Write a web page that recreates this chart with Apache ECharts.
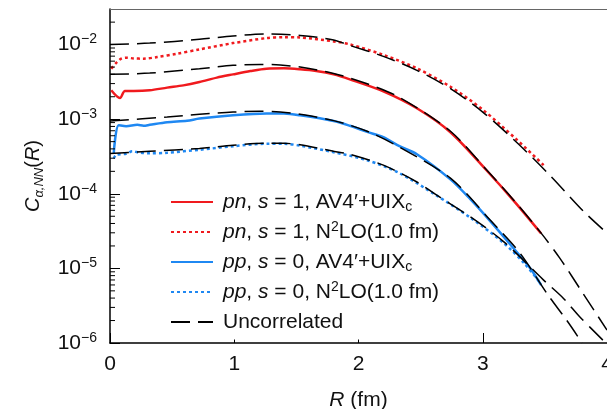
<!DOCTYPE html>
<html>
<head>
<meta charset="utf-8">
<script src="https://cdn.jsdelivr.net/npm/echarts@6/dist/echarts.min.js"></script>
<style>
    html, body { margin: 0; padding: 0; background: #fff; }
    #chart { width: 607px; height: 409px; }
</style>
</head>
<body>
<div id="chart"></div>
<script>
// C_alpha,NN(R) vs R
const rPnAv = [0.01, 0.08, 0.12, 0.19, 0.32, 0.46, 0.59, 0.72, 0.86, 0.99, 1.13, 1.26, 1.40, 1.53, 1.66, 1.80, 1.93, 2.20, 2.47, 2.74, 3.03, 3.25, 3.47];
const cPnAv = [2.44e-3, 1.92e-3, 2.39e-3, 2.39e-3, 2.44e-3, 2.65e-3, 2.84e-3, 3.15e-3, 3.61e-3, 3.99e-3, 4.42e-3, 4.75e-3, 4.80e-3, 4.66e-3, 4.42e-3, 3.99e-3, 3.42e-3, 2.36e-3, 1.40e-3, 6.68e-4, 2.07e-4, 8.05e-5, 2.94e-5];

const rPnN2lo = [0.01, 0.05, 0.09, 0.13, 0.19, 0.27, 0.38, 0.54, 0.72, 0.99, 1.26, 1.40, 1.53, 1.80, 1.93, 2.20, 2.47, 2.74, 3.00, 3.27, 3.49];
const cPnN2lo = [4.75e-3, 5.69e-3, 6.47e-3, 6.68e-3, 6.53e-3, 6.47e-3, 6.81e-3, 7.55e-3, 8.63e-3, 1.047e-2, 1.222e-2, 1.259e-2, 1.247e-2, 1.104e-2, 1.007e-2, 7.28e-3, 4.80e-3, 2.72e-3, 1.34e-3, 5.38e-4, 2.42e-4];

const rPpAv = [0.03, 0.07, 0.13, 0.22, 0.27, 0.32, 0.46, 0.62, 0.72, 0.99, 1.26, 1.40, 1.53, 1.80, 1.93, 2.07, 2.20, 2.33, 2.47, 2.74, 2.90, 3.06, 3.22, 3.38, 3.47];
const cPpAv = [3.46e-4, 8.28e-4, 8.04e-4, 8.41e-4, 8.17e-4, 8.41e-4, 9.10e-4, 9.53e-4, 1.019e-3, 1.127e-3, 1.189e-3, 1.189e-3, 1.127e-3, 9.46e-4, 8.17e-4, 6.75e-4, 5.73e-4, 4.34e-4, 3.39e-4, 1.56e-4, 8.47e-5, 4.31e-5, 2.11e-5, 1.01e-5, 5.97e-6];

const rPpN2lo = [0.03, 0.05, 0.13, 0.18, 0.24, 0.32, 0.46, 0.72, 0.99, 1.26, 1.40, 1.53, 1.80, 2.07, 2.33, 2.63, 2.90, 3.17, 3.34, 3.47];
const cPpN2lo = [2.97e-4, 3.33e-4, 3.44e-4, 3.72e-4, 3.55e-4, 3.49e-4, 3.55e-4, 3.89e-4, 4.34e-4, 4.69e-4, 4.69e-4, 4.41e-4, 3.61e-4, 2.82e-4, 1.89e-4, 9.44e-5, 4.79e-5, 2.18e-5, 1.14e-5, 6.17e-6];

// uncorrelated curves (black dashed)
const rUnc1 = [0, 0.32, 0.72, 0.99, 1.26, 1.53, 1.80, 1.93, 2.20, 2.47, 2.74, 3.00, 3.27, 3.54, 3.81, 4.0];
const cUnc1 = [1.00e-2, 1.047e-2, 1.175e-2, 1.306e-2, 1.390e-2, 1.327e-2, 1.156e-2, 9.75e-3, 6.95e-3, 4.52e-3, 2.57e-3, 1.247e-3, 4.95e-4, 1.774e-4, 5.85e-5, 2.97e-5];

const rUnc2 = [0, 0.32, 0.72, 0.99, 1.21, 1.37, 1.53, 1.80, 2.07, 2.33, 2.74, 3.03, 3.25, 3.47, 3.62, 3.81, 4.0];
const cUnc2 = [3.99e-3, 4.15e-3, 4.75e-3, 5.27e-3, 5.43e-3, 5.32e-3, 5.00e-3, 4.11e-3, 2.98e-3, 1.96e-3, 6.89e-4, 2.10e-4, 8.20e-5, 2.97e-5, 1.374e-5, 4.53e-6, 1.49e-6];

const rUnc3 = [0, 0.46, 0.72, 0.99, 1.21, 1.37, 1.53, 1.80, 2.07, 2.33, 2.74, 3.06, 3.30, 3.52, 3.68, 3.80];
const cUnc3 = [9.46e-4, 1.069e-3, 1.164e-3, 1.247e-3, 1.276e-3, 1.247e-3, 1.164e-3, 9.57e-4, 6.89e-4, 4.21e-4, 1.62e-4, 4.44e-5, 1.60e-5, 4.53e-6, 1.97e-6, 1.0e-6];

const rUnc4 = [0, 0.32, 0.72, 0.99, 1.26, 1.40, 1.53, 1.80, 1.93, 2.20, 2.47, 2.63, 2.90, 3.17, 3.49, 3.65, 3.78, 3.98];
const cUnc4 = [3.46e-4, 3.72e-4, 4.04e-4, 4.48e-4, 4.75e-4, 4.75e-4, 4.54e-4, 3.72e-4, 3.39e-4, 2.42e-4, 1.44e-4, 9.57e-5, 4.91e-5, 2.27e-5, 6.97e-6, 3.96e-6, 2.25e-6, 1.04e-6];

// log axis minor ticks: 2..9 x 10^n
const minorMult = [2, 3, 4, 5, 6, 7, 8, 9];
const minorDecades = [-6, -5, -4, -3];
const minorExtra = [2e-2];

const legendNames = ['pnAv', 'pnN2lo', 'ppAv', 'ppN2lo', 'Uncorrelated'];
const legendLabels = {
    pnAv: '{i|pn}, {i|s} = 1, AV4′+UIX{sub|c}',
    pnN2lo: '{i|pn}, {i|s} = 1, N{sup|2}LO(1.0 fm)',
    ppAv: '{i|pp}, {i|s} = 0, AV4′+UIX{sub|c}',
    ppN2lo: '{i|pp}, {i|s} = 0, N{sup|2}LO(1.0 fm)',
    Uncorrelated: 'Uncorrelated'
};

const FONT = "'Liberation Sans', Arial, sans-serif";
const RED = '#f01a1e';
const BLUE = '#1f88f2';

const pairs = (xs, ys) => xs.map((x, i) => [x, ys[i]]);
const minorTicks = [];
minorDecades.forEach(d => minorMult.forEach(m => minorTicks.push(m * Math.pow(10, d))));
minorExtra.forEach(v => minorTicks.push(v));

const echart = echarts.init(document.getElementById('chart'));

const lineSeries = (name, data, color, type, width, z) => ({
    type: 'line',
    name: name,
    data: data,
    symbol: 'none',
    smooth: 0.3,
    z: z,
    itemStyle: { color: color },
    lineStyle: { color: color, width: width, type: type }
});

const dash = [19, 8];
const dot = [3, 3];

const option = {
    animation: false,
    grid: { left: 110, right: 0, top: 9, bottom: 66, containLabel: false, outerBoundsMode: 'none' },
    // the legend box hides the lower part of the x ticks at 1 and 2
    graphic: [{
        type: 'rect',
        z: 3,
        silent: true,
        shape: { x: 165, y: 332, width: 285, height: 7.5 },
        style: { fill: '#fff' }
    }],
    legend: {
        data: legendNames,
        orient: 'vertical',
        left: 165,
        top: 185,
        itemWidth: 42,
        itemHeight: 14,
        itemGap: 6,
        itemStyle: { opacity: 0 },
        formatter: name => legendLabels[name],
        textStyle: {
            fontFamily: FONT,
            fontSize: 21,
            lineHeight: 24,
            color: '#111',
            padding: [0, 0, 0, 5],
            rich: {
                i: { fontFamily: FONT, fontSize: 21, fontStyle: 'italic', color: '#111', lineHeight: 24 },
                sub: { fontFamily: FONT, fontSize: 14, color: '#111', verticalAlign: 'bottom', lineHeight: 14 },
                sup: { fontFamily: FONT, fontSize: 14, color: '#111', verticalAlign: 'top', lineHeight: 14 }
            }
        }
    },
    xAxis: [{
        type: 'value',
        min: 0,
        max: 4,
        interval: 1,
        axisLine: { onZero: false, lineStyle: { color: '#000', width: 1.5 } },
        axisTick: { inside: true, length: 10, lineStyle: { color: '#000', width: 1 } },
        axisLabel: { margin: 11, fontFamily: FONT, fontSize: 21, color: '#111' },
        splitLine: { show: false },
        name: '{ri|R} (fm)',
        nameLocation: 'middle',
        nameGap: 47,
        nameTextStyle: {
            fontFamily: FONT,
            fontSize: 21,
            color: '#111',
            rich: {
                ri: { fontFamily: FONT, fontSize: 21, fontStyle: 'italic', color: '#111' }
            }
        }
    }, {
        type: 'value',
        position: 'top',
        min: 0,
        max: 4,
        axisLine: { show: true, onZero: false, lineStyle: { color: '#666', width: 1 } },
        axisTick: { show: false },
        axisLabel: { show: false },
        splitLine: { show: false }
    }],
    yAxis: {
        type: 'log',
        logBase: 10,
        min: 1e-6,
        max: 0.03,
        axisLine: { show: true, onZero: false, lineStyle: { color: '#000', width: 1.5 } },
        axisTick: { inside: true, length: 10, lineStyle: { color: '#000', width: 1 } },
        splitLine: { show: false },
        axisLabel: {
            margin: 13,
            showMaxLabel: false,
            formatter: v => '{b|10}{sup|−' + (-Math.round(Math.log10(v))) + '}',
            rich: {
                b: { fontFamily: FONT, fontSize: 21, color: '#111', lineHeight: 24 },
                sup: { fontFamily: FONT, fontSize: 14, color: '#111', verticalAlign: 'top', lineHeight: 14 }
            }
        },
        name: '{ci|C}{sub|α,NN}{n|(}{ci|R}{n|)}',
        nameLocation: 'middle',
        nameGap: 64,
        nameTextStyle: {
            fontFamily: FONT,
            color: '#111',
            rich: {
                ci: { fontFamily: FONT, fontSize: 20, fontStyle: 'italic', color: '#111', lineHeight: 25 },
                n: { fontFamily: FONT, fontSize: 20, color: '#111', lineHeight: 25 },
                sub: { fontFamily: FONT, fontSize: 13, fontStyle: 'italic', color: '#111', verticalAlign: 'bottom', lineHeight: 13 }
            }
        }
    },
    series: [
        lineSeries('pnAv', pairs(rPnAv, cPnAv), RED, 'solid', 2.5, 2),
        lineSeries('pnN2lo', pairs(rPnN2lo, cPnN2lo), RED, dot, 2.5, 2),
        lineSeries('ppAv', pairs(rPpAv, cPpAv), BLUE, 'solid', 2.5, 2),
        lineSeries('ppN2lo', pairs(rPpN2lo, cPpN2lo), BLUE, dot, 2.5, 2),
        lineSeries('Uncorrelated', pairs(rUnc1, cUnc1), '#000', dash, 1.5, 3),
        lineSeries('Uncorrelated', pairs(rUnc2, cUnc2), '#000', dash, 1.5, 3),
        lineSeries('Uncorrelated', pairs(rUnc3, cUnc3), '#000', dash, 1.5, 3),
        lineSeries('Uncorrelated', pairs(rUnc4, cUnc4), '#000', dash, 1.5, 3),
        {
            type: 'custom',
            name: 'minorTicks',
            silent: true,
            clip: false,
            z: 5,
            data: minorTicks.map(v => [0, v]),
            renderItem: (params, api) => {
                const p = api.coord([0, api.value(1)]);
                return {
                    type: 'line',
                    shape: { x1: p[0], y1: p[1], x2: p[0] + 5, y2: p[1] },
                    style: { stroke: '#000', lineWidth: 1 }
                };
            }
        }
    ]
};
echart.setOption(option);
</script>
</body>
</html>
